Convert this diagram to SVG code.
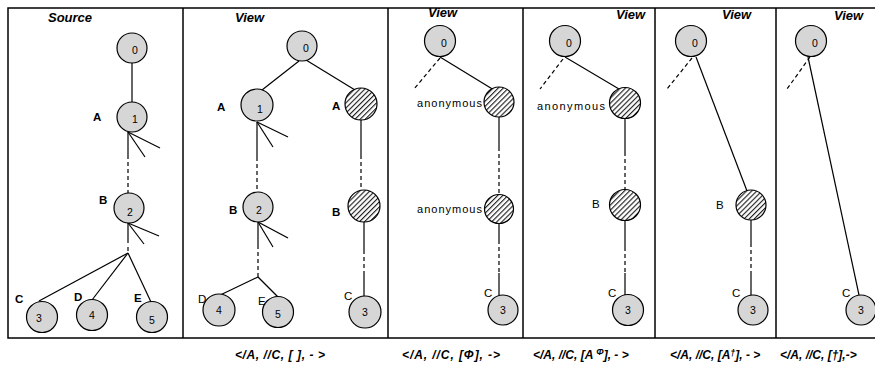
<svg xmlns="http://www.w3.org/2000/svg" width="875" height="365" viewBox="0 0 875 365">
<defs>
<pattern id="hatch" patternUnits="userSpaceOnUse" width="3.6" height="3.6" patternTransform="rotate(45)">
<rect width="3.6" height="3.6" fill="#fff"/>
<line x1="0.6" y1="0" x2="0.6" y2="3.6" stroke="#000" stroke-width="1"/>
</pattern>
</defs>
<style>
.frame{fill:none;stroke:#000;stroke-width:1.5}
.n{fill:#d6d6d6;stroke:#000;stroke-width:1.2}
.h{fill:url(#hatch);stroke:#000;stroke-width:1.2}
.e{stroke:#000;stroke-width:1.2;fill:none}
.d{stroke-dasharray:4 3}
.t{font-family:"Liberation Sans",Arial,sans-serif;font-weight:bold;font-style:italic;font-size:13px}
.cap{font-family:"Liberation Sans",Arial,sans-serif;font-weight:bold;font-style:italic;font-size:12px}
.num{font-family:"Liberation Sans",Arial,sans-serif;font-size:10.5px}
.lb{font-family:"Liberation Sans",Arial,sans-serif;font-size:11.5px;font-weight:bold}
.lr{font-family:"Liberation Sans",Arial,sans-serif;font-size:11.5px}
.an{font-family:"Liberation Sans",Arial,sans-serif;font-size:11px}
</style>
<rect width="875" height="365" fill="#fff"/>
<g id="frame">
<rect class="frame" x="8" y="8" width="880" height="330"/>
<line class="frame" x1="183" y1="8" x2="183" y2="338"/>
<line class="frame" x1="388" y1="8" x2="388" y2="338"/>
<line class="frame" x1="523" y1="8" x2="523" y2="338"/>
<line class="frame" x1="655" y1="8" x2="655" y2="338"/>
<line class="frame" x1="776" y1="8" x2="776" y2="338"/>
</g>
<g id="titles">
<text class="t" x="48" y="22">Source</text>
<text class="t" x="235" y="22">View</text>
<text class="t" x="428" y="17">View</text>
<text class="t" x="616" y="19">View</text>
<text class="t" x="722" y="19">View</text>
<text class="t" x="834" y="20">View</text>
</g>
<g id="connectors">
<line class="e" x1="132" y1="63" x2="132" y2="102"/>
<line class="e" x1="128" y1="132" x2="160" y2="148"/>
<line class="e" x1="128" y1="132" x2="145" y2="157"/>
<line class="e" x1="128" y1="132" x2="128" y2="155"/>
<line class="e d" x1="128" y1="155" x2="128" y2="193"/>
<line class="e" x1="128" y1="223" x2="159" y2="236"/>
<line class="e" x1="128" y1="223" x2="144" y2="244"/>
<line class="e" x1="128" y1="223" x2="128" y2="243"/>
<line class="e d" x1="128" y1="247" x2="128" y2="253"/>
<line class="e" x1="128" y1="253" x2="39" y2="301"/>
<line class="e" x1="128" y1="253" x2="92" y2="300"/>
<line class="e" x1="128" y1="253" x2="151" y2="302"/>
<line class="e" x1="299" y1="61" x2="262" y2="90"/>
<line class="e" x1="306" y1="60" x2="355" y2="90"/>
<line class="e" x1="257" y1="122" x2="288" y2="137"/>
<line class="e" x1="257" y1="122" x2="273" y2="147"/>
<line class="e" x1="257" y1="122" x2="257" y2="157"/>
<line class="e d" x1="257" y1="157" x2="257" y2="192"/>
<line class="e" x1="361" y1="120" x2="361" y2="155"/>
<line class="e d" x1="361" y1="155" x2="361" y2="190"/>
<line class="e" x1="258" y1="222" x2="288" y2="238"/>
<line class="e" x1="258" y1="222" x2="273" y2="247"/>
<line class="e" x1="258" y1="222" x2="258" y2="245"/>
<line class="e d" x1="258" y1="245" x2="258" y2="277"/>
<line class="e" x1="258" y1="277" x2="214" y2="298"/>
<line class="e" x1="258" y1="277" x2="278" y2="297"/>
<line class="e" x1="364" y1="222" x2="364" y2="250"/>
<line class="e d" x1="364" y1="250" x2="364" y2="272"/>
<line class="e" x1="364" y1="272" x2="364" y2="297"/>
<line class="e d" x1="440" y1="58" x2="414" y2="89"/>
<line class="e" x1="440" y1="57" x2="494" y2="90"/>
<line class="e" x1="499" y1="117" x2="499" y2="147"/>
<line class="e d" x1="499" y1="147" x2="499" y2="194"/>
<line class="e" x1="499" y1="223" x2="499" y2="240"/>
<line class="e d" x1="499" y1="240" x2="499" y2="273"/>
<line class="e" x1="499" y1="273" x2="499" y2="296"/>
<line class="e d" x1="563" y1="59" x2="540" y2="89"/>
<line class="e" x1="565" y1="57" x2="619" y2="89"/>
<line class="e" x1="625" y1="118" x2="625" y2="152"/>
<line class="e d" x1="625" y1="152" x2="625" y2="190"/>
<line class="e" x1="625" y1="220" x2="625" y2="247"/>
<line class="e d" x1="625" y1="247" x2="625" y2="273"/>
<line class="e" x1="625" y1="273" x2="625" y2="295"/>
<line class="e d" x1="692" y1="58" x2="667" y2="89"/>
<line class="e" x1="696" y1="57" x2="747" y2="191"/>
<line class="e" x1="751" y1="220" x2="751" y2="243"/>
<line class="e d" x1="751" y1="243" x2="751" y2="273"/>
<line class="e" x1="751" y1="273" x2="751" y2="296"/>
<line class="e d" x1="810" y1="57" x2="787" y2="89"/>
<line class="e" x1="808" y1="57" x2="859" y2="295"/>
</g>
<g id="src-0"><circle class="n" cx="132" cy="48" r="15"/><text class="num" x="132" y="54">0</text></g>
<g id="src-1"><circle class="n" cx="132" cy="117" r="15"/><text class="num" x="132" y="123">1</text><text class="lb" x="93" y="121">A</text></g>
<g id="src-2"><circle class="n" cx="129" cy="208" r="15"/><text class="num" x="127" y="216">2</text><text class="lb" x="99" y="204">B</text></g>
<g id="src-3"><circle class="n" cx="42" cy="317" r="15.5"/><text class="num" x="36" y="322">3</text><text class="lb" x="15" y="303">C</text></g>
<g id="src-4"><circle class="n" cx="92" cy="315" r="15.5"/><text class="num" x="89" y="319">4</text><text class="lb" x="74" y="301">D</text></g>
<g id="src-5"><circle class="n" cx="152" cy="317" r="15.5"/><text class="num" x="149" y="324">5</text><text class="lb" x="134" y="302">E</text></g>
<g id="v1-0"><circle class="n" cx="302" cy="46" r="15"/><text class="num" x="303" y="52">0</text></g>
<g id="v1-1"><circle class="n" cx="257" cy="105" r="16"/><text class="num" x="257" y="113">1</text><text class="lb" x="217" y="111">A</text></g>
<g id="v1-a"><circle class="h" cx="361" cy="104" r="16"/><text class="lb" x="332" y="110">A</text></g>
<g id="v1-2"><circle class="n" cx="258" cy="207" r="15"/><text class="num" x="256" y="214">2</text><text class="lb" x="229" y="214">B</text></g>
<g id="v1-4"><circle class="n" cx="219" cy="310" r="16"/><text class="num" x="216" y="314">4</text><text class="lr" x="198" y="303">D</text></g>
<g id="v1-5"><circle class="n" cx="278" cy="312" r="15.5"/><text class="num" x="275" y="318">5</text><text class="lr" x="258" y="305">E</text></g>
<g id="v1-b"><circle class="h" cx="364" cy="206" r="16"/><text class="lb" x="332" y="216">B</text></g>
<g id="v1-3"><circle class="n" cx="365" cy="312" r="16"/><text class="num" x="362" y="316">3</text><text class="lr" x="344" y="300">C</text></g>
<g id="v2-0"><circle class="n" cx="440" cy="41" r="15.5"/><text class="num" x="441" y="47">0</text></g>
<g id="v2-a1"><circle class="h" cx="499" cy="102" r="15"/><text class="an" x="417" y="107" textLength="65" lengthAdjust="spacing">anonymous</text></g>
<g id="v2-a2"><circle class="h" cx="499" cy="209" r="14.5"/><text class="an" x="417" y="213" textLength="65" lengthAdjust="spacing">anonymous</text></g>
<g id="v2-3"><circle class="n" cx="503" cy="310" r="15"/><text class="num" x="500" y="314">3</text><text class="lr" x="484" y="297">C</text></g>
<g id="v3-0"><circle class="n" cx="565" cy="41" r="15.5"/><text class="num" x="566" y="47">0</text></g>
<g id="v3-a"><circle class="h" cx="625" cy="103" r="15.5"/><text class="an" x="537" y="110" textLength="68" lengthAdjust="spacing">anonymous</text></g>
<g id="v3-b"><circle class="h" cx="625" cy="205" r="15.5"/><text class="lr" x="592" y="208">B</text></g>
<g id="v3-3"><circle class="n" cx="628" cy="310" r="15.5"/><text class="num" x="625" y="314">3</text><text class="lr" x="608" y="297">C</text></g>
<g id="v4-0"><circle class="n" cx="691" cy="41" r="15.5"/><text class="num" x="692" y="47">0</text></g>
<g id="v4-b"><circle class="h" cx="751" cy="205" r="15"/><text class="lr" x="716" y="209">B</text></g>
<g id="v4-3"><circle class="n" cx="753" cy="310" r="15"/><text class="num" x="750" y="314">3</text><text class="lr" x="732" y="297">C</text></g>
<g id="v5-0"><circle class="n" cx="811" cy="41" r="15.5"/><text class="num" x="812" y="47">0</text></g>
<g id="v5-3"><circle class="n" cx="861" cy="310" r="15"/><text class="num" x="858" y="314">3</text><text class="lr" x="842" y="297">C</text></g>
<g id="captions">
<text class="cap" x="235" y="359" textLength="90" lengthAdjust="spacing">&lt;/A, //C, [ ], - &gt;</text>
<text class="cap" x="402" y="359" textLength="98" lengthAdjust="spacing">&lt;/A, //C, [Φ], -&gt;</text>
<text class="cap" x="533" y="359">&lt;/A, //C, [A <tspan font-size="9" dy="-4">Φ</tspan><tspan dy="4">], - &gt;</tspan></text>
<text class="cap" x="670" y="359">&lt;/A, //C, [A<tspan font-size="9" dy="-3">†</tspan><tspan dy="3">], - &gt;</tspan></text>
<text class="cap" x="780" y="359">&lt;/A, //C, [†],-&gt;</text>
</g>
</svg>
